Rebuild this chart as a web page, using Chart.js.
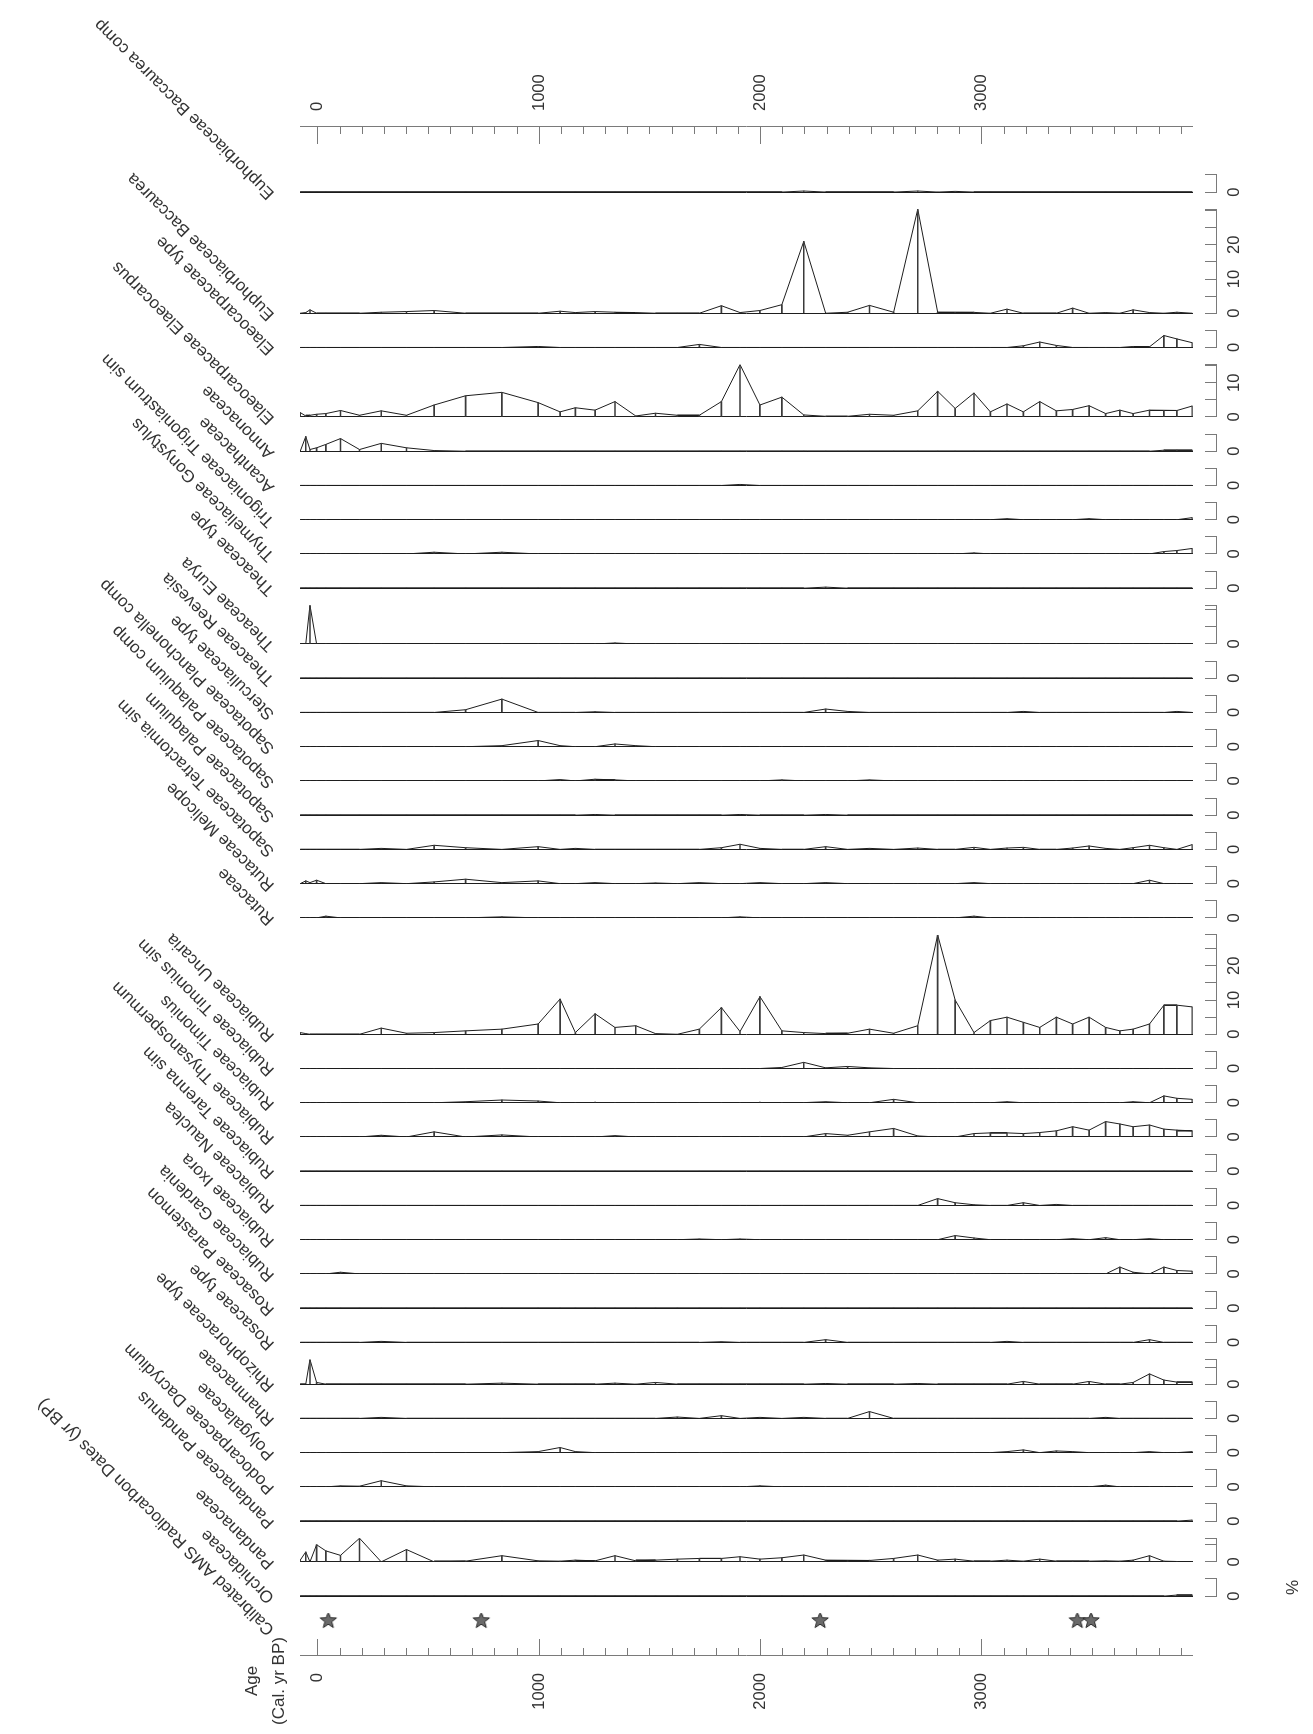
<!DOCTYPE html>
<html lang="en">
<head>
<meta charset="UTF-8" />
<title>Pollen diagram</title>
<script src="https://cdn.jsdelivr.net/npm/chart.js@4"></script>
<style>
  html, body { margin: 0; padding: 0; background: #fff; overflow: hidden; }
  #wrap { position: relative; width: 1313px; height: 1734px; }
  /* the diagram is drawn upright, then turned a quarter to the left */
  #chart { position: absolute; left: 0; top: 0; transform-origin: 0 0; transform: translateY(1734px) rotate(-90deg); }
</style>
</head>
<body>
<div id="wrap"><canvas id="chart" width="1734" height="1313"></canvas></div>
<script>
// sample ages (cal. yr BP)
const ages = [
  -80, -55, -36, -6, 36, 102, 188, 286, 400, 525, 667, 831, 995, 1094, 1163, 1252,
  1342, 1436, 1525, 1624, 1723, 1823, 1907, 1997, 2096, 2195, 2294, 2393, 2492, 2601, 2710, 2800,
  2879, 2964, 3038, 3113, 3187, 3261, 3336, 3410, 3484, 3559, 3623, 3683, 3757, 3822, 3881, 3950
];
const dateAges = [47, 738, 2269, 3431, 3493];

// percentages, one list per taxon
const baccaureaComp = [
  0,0,0,0,0,0,0,0, 0,0,0,0,0,0,0,0,
  0,0,0,0,0,0,0,0, 0,0.3,0,0,0,0,0.3,0,
  0.2,0,0,0,0,0,0,0, 0,0,0,0,0,0,0,0];
const baccaurea = [
  0,0.2,1.0,0,0,0,0,0.3, 0.5,0.8,0,0,0,0.6,0.2,0.5,
  0.3,0.2,0,0,0,2.2,0.2,0.8, 2.5,21,0,0.3,2.3,0.3,30.4,0.3,
  0.2,0.3,0,1.2,0,0,0,1.5, 0,0.2,0,1.0,0.2,0,0.3,0];
const elaeoType = [
  0,0,0,0,0,0,0,0, 0,0,0,0,0.3,0,0,0,
  0,0,0,0,0.9,0,0,0, 0,0,0,0,0,0,0,0,
  0,0,0,0,0.5,1.6,0.6,0, 0,0,0,0.3,0.2,3.5,2.5,1.4];
const elaeocarpus = [
  1.3,0.3,0.5,0.8,1.0,1.9,0.5,1.8, 0.5,3.5,6.2,7.2,4.2,1.5,2.7,2.0,
  4.5,0.3,1.1,0.5,0.5,4.5,15.3,3.5, 5.8,0.6,0.2,0.2,0.8,0.5,1.8,7.5,
  2.5,7.0,1.5,3.8,1.5,4.5,1.8,2.2, 3.3,1.0,2.0,1.0,2.0,1.9,1.9,3.2];
const annonaceae = [
  0,4.3,0.5,1.0,2.0,3.7,0.5,2.3, 1.0,0.2,0,0,0,0,0,0,
  0,0,0,0,0,0,0,0, 0,0,0,0,0,0,0,0,
  0,0,0,0,0,0,0,0, 0,0,0,0,0,0.3,0.3,0.3];
const acanthaceae = [
  0,0,0,0,0,0,0,0, 0,0,0,0,0,0,0,0,
  0,0,0,0,0,0,0.3,0, 0,0,0,0,0,0,0,0,
  0,0,0,0,0,0,0,0, 0,0,0,0,0,0,0,0];
const trigoniastrum = [
  0,0,0,0,0,0,0,0, 0,0,0,0,0,0,0,0,
  0,0,0,0,0,0,0,0, 0,0,0,0,0,0,0,0,
  0,0,0,0.3,0,0,0,0, 0.3,0,0,0,0,0,0,0.6];
const gonystylus = [
  0,0,0,0,0,0,0,0, 0,0.5,0,0.5,0,0,0,0,
  0,0,0,0,0,0,0,0, 0,0,0,0,0,0,0,0,
  0,0.3,0,0,0,0,0,0, 0,0,0,0,0,0.7,1.0,1.6];
const theaceaeType = [
  0,0,0,0,0,0,0,0, 0,0,0,0,0,0,0,0,
  0,0,0,0,0,0,0,0, 0,0,0.3,0,0,0,0,0,
  0,0,0,0,0,0,0,0, 0,0,0,0,0,0,0,0];
const eurya = [
  0,0,11.3,0,0,0,0,0, 0,0,0,0,0,0,0,0,
  0.3,0,0,0,0,0,0,0, 0,0,0,0,0,0,0,0,
  0,0,0,0,0,0,0,0, 0,0,0,0,0,0,0,0];
const reevesia = [
  0,0,0,0,0,0,0,0, 0,0,0,0,0,0,0,0,
  0,0,0,0,0,0,0,0, 0,0,0,0,0,0,0,0,
  0,0,0,0,0,0,0,0, 0,0,0,0,0,0,0,0];
const sterculiaceae = [
  0,0,0,0,0,0,0,0, 0,0,0.8,3.9,0,0,0,0.2,
  0,0,0,0,0,0,0,0, 0,0,1.0,0.3,0,0,0,0,
  0,0,0,0,0.3,0,0,0, 0,0,0,0,0,0,0.3,0];
const planchonella = [
  0,0,0,0,0,0,0,0, 0,0,0,0.3,1.8,0.3,0,0,
  0.8,0.3,0,0,0,0,0,0, 0,0,0,0,0,0,0,0,
  0,0,0,0,0,0,0,0, 0,0,0,0,0,0,0,0];
const palaquiumComp = [
  0,0,0,0,0,0,0,0, 0,0,0,0,0,0.4,0,0.5,
  0.3,0,0,0,0,0,0,0, 0.3,0,0,0,0.3,0,0,0,
  0,0,0,0,0,0,0,0, 0,0,0,0,0,0,0,0];
const palaquium = [
  0,0,0,0,0,0,0,0, 0,0,0,0,0,0,0,0.2,
  0,0,0,0,0,0,0.2,0, 0,0,0.2,0,0,0,0,0,
  0,0,0,0,0,0,0,0, 0,0,0,0,0,0,0,0];
const tetractomia = [
  0,0,0,0,0,0,0,0.3, 0,1.2,0.5,0,0.8,0,0.3,0,
  0,0,0,0,0,0.5,1.5,0.3, 0,0,0.8,0,0.3,0,0.4,0,
  0,0.6,0,0.4,0.6,0,0,0.4, 1.0,0.3,0,0.5,1.2,0.5,0,1.4];
const melicope = [
  0,0.8,0.3,1.0,0,0,0,0.3, 0,0.5,1.3,0.3,0.8,0,0,0.3,
  0,0,0.2,0,0.3,0,0,0.3, 0,0,0.3,0,0,0,0,0,
  0,0.3,0,0,0,0,0,0, 0,0,0,0,1.0,0,0,0];
const rutaceae = [
  0,0,0,0,0.5,0,0,0, 0,0,0,0.3,0,0,0,0,
  0,0,0,0,0,0,0.3,0, 0,0,0,0,0,0,0,0,
  0,0.5,0,0,0,0,0,0, 0,0,0,0,0,0,0,0];
const uncaria = [
  0.5,0.2,0,0,0,0,0,1.8, 0.3,0.5,1.0,1.5,3.0,10.3,0.5,6.0,
  2.0,2.5,0.2,0,1.5,7.8,0.8,11.0, 1.0,0.5,0.2,0.3,1.5,0.3,2.5,29.0,
  10,0.5,4.0,5.0,3.5,2.0,5.0,3.0, 5.0,2.0,1.0,1.5,3.0,8.5,8.5,8.0];
const timoniusSim = [
  0,0,0,0,0,0,0,0, 0,0,0,0,0,0,0,0,
  0,0,0,0,0,0,0,0, 0.3,1.8,0.2,0.6,0.2,0,0,0,
  0,0,0,0,0,0,0,0, 0,0,0,0,0,0,0,0];
const timonius = [
  0,0,0,0,0,0,0,0, 0,0,0.3,0.8,0.5,0,0,0.2,
  0,0,0,0,0,0,0,0.2, 0,0,0.3,0,0,1.0,0,0,
  0,0,0,0.3,0,0,0,0, 0,0,0,0.3,0,2.0,1.3,1.0];
const thysanospermum = [
  0,0,0,0,0,0,0,0.5, 0,1.5,0,0.6,0,0,0,0,
  0.4,0,0,0,0,0,0,0.2, 0,0,1.0,0.5,1.5,2.5,0.3,0,
  0,1.0,1.2,1.2,1.0,1.3,1.8,3.0, 2.0,4.5,3.8,3.0,3.5,2.3,2.0,1.8];
const tarenna = [
  0,0,0,0,0,0,0,0, 0,0,0,0,0,0,0,0,
  0,0,0,0,0,0,0,0, 0,0,0,0,0,0,0,0,
  0,0,0,0,0,0,0,0, 0,0,0,0,0,0,0,0];
const nauclea = [
  0,0,0,0,0,0,0,0, 0,0,0,0,0,0,0,0,
  0,0,0,0,0,0,0,0, 0,0,0,0,0,0,0,2.0,
  0.8,0.2,0,0,0.8,0,0.3,0, 0,0,0,0,0,0,0,0];
const ixora = [
  0,0,0,0,0,0,0,0, 0,0,0,0,0,0,0,0,
  0,0,0,0,0.2,0,0.2,0, 0,0,0,0,0,0,0,0,
  1.2,0.5,0,0,0,0,0,0.3, 0,0.6,0,0,0.3,0,0,0];
const gardenia = [
  0,0,0,0,0,0.5,0,0.2, 0,0,0,0,0,0,0,0,
  0,0,0,0,0,0,0,0, 0,0,0,0,0,0,0,0,
  0,0,0,0,0,0,0.2,0, 0,0,2.0,0.5,0,2.0,1.0,0.8];
const parastemon = [
  0,0,0,0,0,0,0,0, 0,0,0,0,0,0,0,0,
  0,0,0,0,0,0,0,0, 0,0,0,0,0,0,0,0,
  0,0,0,0,0,0,0,0, 0,0,0,0,0,0,0,0];
const rosaceaeType = [
  0,0,0,0,0,0,0,0.3, 0,0,0,0,0,0,0,0,
  0,0,0,0,0,0.2,0,0, 0,0,0.8,0,0,0,0,0,
  0,0,0,0.3,0,0,0,0, 0,0,0,0,0.8,0,0,0];
const rhizophoraceae = [
  0,0,7.2,0.5,0,0,0,0, 0,0,0,0.3,0,0,0,0,
  0.3,0,0.5,0,0,0,0,0, 0,0,0.2,0,0,0,0.2,0,
  0,0,0,0,0.8,0,0,0, 0.8,0,0,0.5,3.0,1.2,0.6,0.6];
const rhamnaceae = [
  0,0,0,0,0,0,0,0.3, 0,0,0,0,0,0,0,0,
  0,0,0,0.4,0,0.8,0,0.3, 0,0.3,0,0,2.0,0,0,0,
  0,0,0,0,0,0,0,0, 0,0.3,0,0,0,0,0,0];
const polygalaceae = [
  0,0,0,0,0,0,0,0, 0,0,0,0,0.3,1.5,0.3,0,
  0,0,0,0,0,0,0,0, 0,0,0,0,0,0,0,0,
  0,0,0,0.3,0.8,0,0.5,0.3, 0,0,0,0,0.3,0,0,0.3];
const dacrydium = [
  0,0,0,0,0,0.3,0.2,1.8, 0.3,0,0,0,0,0,0,0,
  0,0,0,0,0,0,0,0.3, 0,0,0,0,0,0,0,0,
  0,0,0,0,0,0,0,0, 0,0.5,0,0,0,0,0,0];
const pandanus = [
  0,0,0,0,0,0,0,0, 0,0,0,0,0,0,0,0,
  0,0,0,0,0,0,0,0, 0,0,0,0,0,0,0,0,
  0,0,0,0,0,0,0,0, 0,0,0,0,0,0,0,0.3];
const pandanaceae = [
  0.5,2.9,0,5.0,3.2,1.9,6.9,0, 3.6,0,0.2,1.8,0.3,0.2,0.5,0.3,
  1.8,0.3,0.5,0.8,1.0,1.0,1.5,0.8, 1.2,2.0,0.5,0.3,0.5,1.0,2.0,0.5,
  0.8,0.2,0.2,0.5,0.2,0.8,0.2,0.2, 0.2,0.3,0.2,0.5,1.8,0.2,0,0];
const orchidaceae = [
  0,0,0,0,0,0,0,0, 0,0,0,0,0,0,0,0,
  0,0,0,0,0,0,0,0, 0,0,0,0,0,0,0,0,
  0,0,0,0,0,0,0,0, 0,0,0,0,0,0,0.3,0.3];

// taxa in the order of the figure (first = farthest from the age axis)
const taxa = [
  'Euphorbiaceae Baccaurea comp', 'Euphorbiaceae Baccaurea', 'Elaeocarpaceae type',
  'Elaeocarpaceae Elaeocarpus', 'Annonaceae', 'Acanthaceae', 'Trigoniaceae Trigoniastrum sim',
  'Thymeliaceae Gonystylus', 'Theaceae type', 'Theaceae Eurya', 'Theaceae Reevesia',
  'Sterculiaceae type', 'Sapotaceae Planchonella comp', 'Sapotaceae Palaquium comp',
  'Sapotaceae Palaquium', 'Sapotaceae Tetractomia sim', 'Rutaceae Melicope', 'Rutaceae',
  'Rubiaceae Uncaria', 'Rubiaceae Timonius sim', 'Rubiaceae Timonius', 'Rubiaceae Thysanospermum',
  'Rubiaceae Tarenna sim', 'Rubiaceae Nauclea', 'Rubiaceae Ixora', 'Rubiaceae Gardenia',
  'Rosaceae Parastemon', 'Rosaceae type', 'Rhizophoraceae type', 'Rhamnaceae', 'Polygalaceae',
  'Podocarpaceae Dacrydium', 'Pandanaceae Pandanus', 'Pandanaceae', 'Orchidaceae'
];
const series = [
  baccaureaComp, baccaurea, elaeoType, elaeocarpus, annonaceae, acanthaceae, trigoniastrum,
  gonystylus, theaceaeType, eurya, reevesia, sterculiaceae, planchonella, palaquiumComp,
  palaquium, tetractomia, melicope, rutaceae, uncaria, timoniusSim, timonius, thysanospermum,
  tarenna, nauclea, ixora, gardenia, parastemon, rosaceaeType, rhizophoraceae, rhamnaceae,
  polygalaceae, dacrydium, pandanus, pandanaceae, orchidaceae
];
const ageTickValues = [];
for (let a = 0; a <= 3900; a += 100) ageTickValues.push(a);

// look
const FONT = '"Liberation Sans", Arial, Helvetica, sans-serif';
const TEXT = '#333';
const AXIS = '#7a7a7a';
const CURVE = '#1e1e1e';
const BAR = '#3a3a3a';
const GAP = 5;          // empty space left of each panel, in % units
const DATE_COL = 12.5;  // width of the dates column, in % units
const END_COL = 14.0;   // space after the last panel, in % units
const AGE_MIN = -81;
const AGE_MAX = 3952;

function panelTicks(scale) {
  const t = [];
  for (let v = 0; v <= scale.max + 1e-9; v += 5) t.push({ value: v });
  if (scale.max % 5 > 1e-6) t.push({ value: scale.max });
  scale.ticks = t;
}
function ageTicks(scale) {
  scale.ticks = ageTickValues.map(v => ({ value: v }));
}
function hidden(stack, weight) {
  return { type: 'linear', axis: 'x', position: 'bottom', stack, stackWeight: weight, min: 0, max: 1, display: false };
}

// five-point star for the dated levels
const star = document.createElement('canvas');
star.width = 20; star.height = 20;
(function () {
  const c = star.getContext('2d');
  c.beginPath();
  for (let k = 0; k < 10; k++) {
    const r = k % 2 ? 3.6 : 8.6;
    const t = -Math.PI / 2 + k * Math.PI / 5;
    const px = 10 + r * Math.cos(t), py = 10.6 + r * Math.sin(t);
    k ? c.lineTo(px, py) : c.moveTo(px, py);
  }
  c.closePath();
  c.fillStyle = '#6a6a6a';
  c.fill();
  c.strokeStyle = '#2a2a2a';
  c.lineWidth = 1;
  c.stroke();
})();

const ageAxis = (position, padding, dash, width) => ({
  type: 'linear', axis: 'y', position, reverse: true, min: AGE_MIN, max: AGE_MAX,
  offset: false,
  afterBuildTicks: ageTicks,
  afterFit: s => { s.width = width; },
  border: { display: true, color: AXIS, width: 1 },
  grid: {
    offset: false, drawOnChartArea: false, drawTicks: true, tickLength: -17,
    tickColor: AXIS, tickWidth: 1,
    tickBorderDash: c => (c.tick && c.tick.value % 1000 === 0 ? [] : dash)
  },
  ticks: {
    autoSkip: false, padding, color: TEXT, font: { family: FONT, size: 16.5 },
    callback: v => (v % 1000 === 0 ? String(v) : '')
  }
});

const scales = {
  age: ageAxis('left', 34, [0, 9, 8, 60], 78),
  age2: ageAxis('right', 33, [8, 60], 127)
};
const datasets = [];

// stack "a": tick marks of each panel and its zero line; stack "b": bracket line and labels
scales.aDates = hidden('a', DATE_COL);
for (let i = taxa.length - 1; i >= 0; i--) {
  const top = Math.max(5, ...series[i]);
  scales['aGap' + i] = hidden('a', GAP);
  scales['a' + i] = {
    type: 'linear', axis: 'x', position: 'bottom', stack: 'a', stackWeight: top,
    min: 0, max: top, afterBuildTicks: panelTicks,
    border: { display: false },
    grid: {
      drawOnChartArea: true, drawTicks: true, tickLength: 24, offset: false,
      color: c => (c.tick && c.tick.value === 0 ? CURVE : 'rgba(0,0,0,0)'),
      lineWidth: 1, tickColor: AXIS, tickWidth: 1, tickBorderDash: [0, 12, 12, 60]
    },
    ticks: { display: false }
  };
}
scales.aEnd = hidden('a', END_COL);
scales.bDates = hidden('b', DATE_COL);
for (let i = taxa.length - 1; i >= 0; i--) {
  const top = Math.max(5, ...series[i]);
  scales['bGap' + i] = hidden('b', GAP);
  scales['b' + i] = {
    type: 'linear', axis: 'x', position: 'bottom', stack: 'b', stackWeight: top,
    min: 0, max: top, afterBuildTicks: panelTicks,
    border: { display: true, color: AXIS, width: 1 },
    grid: { display: false, drawTicks: false, drawOnChartArea: false },
    ticks: {
      autoSkip: false, maxRotation: 0, minRotation: 0, padding: 8, color: TEXT,
      font: { family: FONT, size: 16.5 },
      // tens are labelled, except one sitting right at the end of the bracket
      callback: v => (v % 10 === 0 && v <= top - 2 ? String(v) : '')
    }
  };
}
scales.bEnd = hidden('b', END_COL);

series.forEach((vals, i) => {
  const pts = ages.map((a, j) => ({ x: vals[j], y: a }));
  datasets.push({
    type: 'bar', data: pts, xAxisID: 'a' + i, yAxisID: 'age', indexAxis: 'y',
    grouped: false, barThickness: 1, backgroundColor: BAR, borderWidth: 0
  });
  datasets.push({
    type: 'line', data: pts, xAxisID: 'a' + i, yAxisID: 'age', indexAxis: 'y',
    borderColor: CURVE, borderWidth: 1, pointRadius: 0, tension: 0, fill: false
  });
});
datasets.push({
  type: 'scatter', data: dateAges.map(a => ({ x: 0.84, y: a })), xAxisID: 'aDates', yAxisID: 'age',
  pointStyle: star, pointRadius: 8, pointRotation: 90
});

const textPlugin = {
  id: 'diagramText',
  afterDraw(chart) {
    const { ctx, chartArea, scales: s } = chart;
    ctx.save();
    ctx.fillStyle = TEXT;
    ctx.font = '17px ' + FONT;
    ctx.textAlign = 'left';
    ctx.textBaseline = 'alphabetic';
    const slanted = (text, x) => {
      ctx.save();
      ctx.translate(x - 1, chartArea.top - 25);
      ctx.rotate(-Math.PI / 4);
      ctx.fillText(text, 0, 0);
      ctx.restore();
    };
    taxa.forEach((name, i) => slanted(name, s['a' + i].getPixelForValue(0)));
    slanted('Calibrated AMS Radiocarbon Dates (yr BP)', s.aDates.getPixelForValue(0.84) - 8);

    ctx.textAlign = 'center';
    ctx.textBaseline = 'middle';
    const ax = chartArea.left - 25;
    ctx.fillText('Age', ax, chartArea.top - 48);
    ctx.fillText('(Cal. yr BP)', ax, chartArea.top - 21);
    const first = s['a' + (taxa.length - 1)];
    ctx.fillText('%', (first.left + first.right) / 2, chartArea.bottom + 101);
    ctx.restore();
  }
};

new Chart(document.getElementById('chart'), {
  type: 'line',
  data: { datasets },
  options: {
    responsive: false,
    animation: false,
    devicePixelRatio: 1,
    events: [],
    layout: { padding: { top: 300, left: 0, right: 0, bottom: 62.2 } },
    plugins: { legend: { display: false }, tooltip: { enabled: false } },
    scales
  },
  plugins: [textPlugin]
});
</script>
</body>
</html>
